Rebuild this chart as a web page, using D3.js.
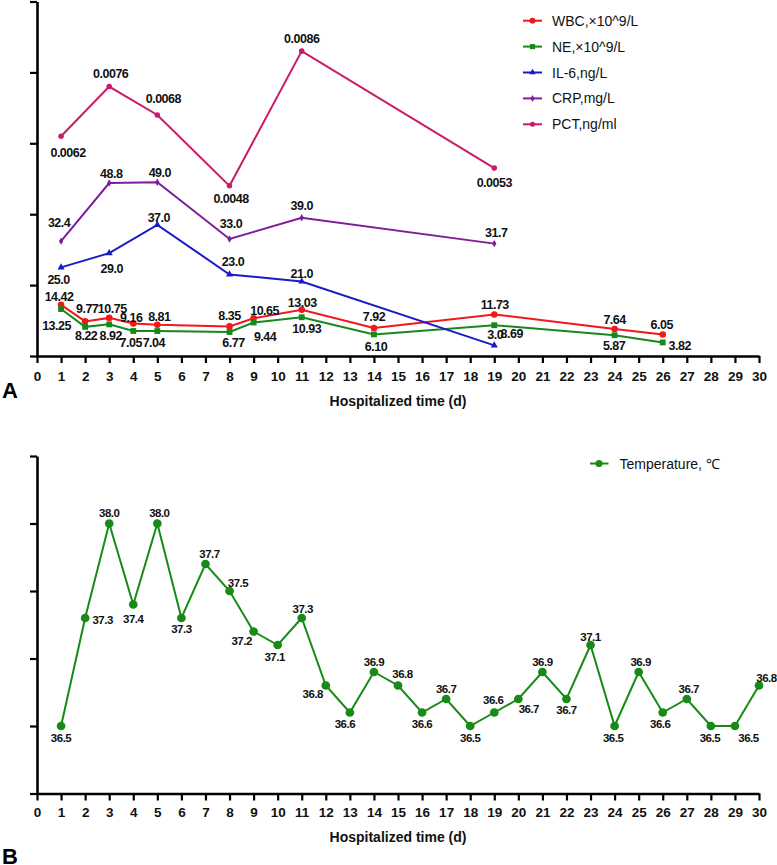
<!DOCTYPE html>
<html>
<head>
<meta charset="utf-8">
<script src="https://cdn.jsdelivr.net/npm/d3@7/dist/d3.min.js"></script>
<style>
  body { margin: 0; background: #fff; }
  svg { display: block; }
  text { font-family: "Liberation Sans", Arial, sans-serif; }
</style>
</head>
<body>
<svg id="chart" width="777" height="865"></svg>
<script>
// ---------------- DATA ----------------
const xTicks = d3.range(0, 31);
const xTitle = "Hospitalized time (d)";

const labDays = [1, 2, 3, 4, 5, 8, 9, 11, 14, 19, 24, 26];
const wbc = [14.42, 9.77, 10.75, 9.16, 8.81, 8.35, 10.65, 13.03, 7.92, 11.73, 7.64, 6.05];
const ne = [13.25, 8.22, 8.92, 7.05, 7.04, 6.77, 9.44, 10.93, 6.10, 8.69, 5.87, 3.82];

const inflDays = [1, 3, 5, 8, 11, 19];
const il6 = [25.0, 29.0, 37.0, 23.0, 21.0, 3.0];
const crp = [32.4, 48.8, 49.0, 33.0, 39.0, 31.7];
const pct = [0.0062, 0.0076, 0.0068, 0.0048, 0.0086, 0.0053];
const pctPlotFactor = 10000; // PCT drawn on the shared axis ×10^4

const tempDays = d3.range(1, 31);
const temperature = [36.5, 37.3, 38.0, 37.4, 38.0, 37.3, 37.7, 37.5, 37.2, 37.1,
  37.3, 36.8, 36.6, 36.9, 36.8, 36.6, 36.7, 36.5, 36.6, 36.7,
  36.9, 36.7, 37.1, 36.5, 36.9, 36.6, 36.7, 36.5, 36.5, 36.8];

const legendA = ["WBC,×10^9/L", "NE,×10^9/L", "IL-6,ng/L", "CRP,mg/L", "PCT,ng/ml"];
const legendB = ["Temperature, ℃"];

// ---------------- LABEL OFFSETS (layout only) ----------------
const offWbc = [[-2,-8],[2,-12],[3,-8.5],[-2,-6],[2,-7.5],[0,-10],[11,-7],[0.5,-6.5],[0,-10.5],[0.5,-9.5],[0,-9],[-1,-9.5]];
const offNe = [[-4.5,16.5],[1,9.5],[1.5,11.5],[-2.5,11.5],[-3.5,11.5],[4,10.7],[11.5,14],[5,12],[2,12.4],[17.5,9],[-0.5,11],[17,3.3]];
const offIl6 = [[-2.5,13],[2.5,16],[1.5,-6.5],[3.5,-12.5],[0,-7.5],[1,-10]];
const offCrp = [[-2,-17.7],[2,-9.5],[2.5,-9],[1.5,-15.5],[0,-11.5],[2,-11]];
const offPct = [[7,16.5],[1.5,-13],[6,-15.5],[1.5,13.5],[0,-12.5],[0,15]];
const offTemp = [[0,11.5],[17.5,2],[0,-10.5],[0,14],[2,-10.5],[0,11],[4,-10],[8.5,-8],[-12,9.5],[-3,11.5],
  [1,-9],[-13,8.5],[-5,11.5],[0,-10.5],[4.5,-12],[0,11.5],[0,-10.5],[0,11.5],[-1,-12.5],[10.5,10],
  [0,-10.5],[0,10.5],[0,-8.5],[-1.5,11.5],[2,-10.5],[-2.5,11.5],[2,-10.5],[-1,11.5],[13.5,11.5],[7.5,-8]];

// ---------------- DRAW ----------------
const svg = d3.select("#chart");
svg.append("rect").attr("width", 777).attr("height", 865).attr("fill", "#fff");

const x = d3.scaleLinear().domain([0, 30]).range([37, 759]);

function drawAxes(g, y, yTicks, axisY, pad, titleY) {
  const xa = g.append("g").attr("transform", `translate(0,${axisY})`)
    .call(d3.axisBottom(x).tickValues(xTicks).tickFormat(d3.format("d")).tickSize(7).tickSizeOuter(0).tickPadding(pad));
  xa.select(".domain").attr("stroke", "#000").attr("stroke-width", 2.6);
  xa.selectAll(".tick line").attr("stroke", "#000").attr("stroke-width", 2.2);
  xa.selectAll(".tick text").attr("font-size", 13.5).attr("font-weight", "bold").attr("fill", "#111")
    .attr("font-family", "'Liberation Sans', Arial, sans-serif");
  const ya = g.append("g").attr("transform", `translate(37,0)`)
    .call(d3.axisLeft(y).tickValues(yTicks).tickFormat("").tickSize(7).tickSizeOuter(0));
  ya.select(".domain").attr("stroke", "#000").attr("stroke-width", 2.6);
  ya.selectAll(".tick line").attr("stroke", "#000").attr("stroke-width", 2.2);
  g.append("text").attr("x", 398).attr("y", titleY).attr("text-anchor", "middle")
    .attr("dominant-baseline", "central").attr("font-size", 14).attr("font-weight", "bold")
    .attr("fill", "#111").text(xTitle);
}

function series(g, y, days, vals, plotVals, color, symbol, size, offs, fmt, fs) {
  const pts = days.map((d, i) => [x(d), y(plotVals[i])]);
  g.append("path").attr("d", d3.line()(pts)).attr("fill", "none")
    .attr("stroke", color).attr("stroke-width", 2);
  g.selectAll(null).data(pts).join("path")
    .attr("transform", p => `translate(${p[0]},${p[1]})`)
    .attr("d", d3.symbol(symbol, size)).attr("fill", color);
  g.selectAll(null).data(pts).join("text")
    .attr("x", (p, i) => p[0] + offs[i][0]).attr("y", (p, i) => p[1] + offs[i][1])
    .attr("text-anchor", "middle").attr("dominant-baseline", "central")
    .attr("font-size", fs).attr("font-weight", "bold").attr("fill", "#111")
    .attr("letter-spacing", -0.5)
    .text((p, i) => fmt(vals[i]));
}

// ----- Panel A -----
const gA = svg.append("g");
const yA = d3.scaleLinear().domain([0, 100]).range([356, 1.5]);
drawAxes(gA, yA, [0, 20, 40, 60, 80, 100], 356, 8.5, 401);

const cRed = "#f01818", cGreen = "#16881c", cBlue = "#1a1ac8", cPurple = "#7e1c9c", cPink = "#cc1a6a";
series(gA, yA, labDays, wbc, wbc, cRed, d3.symbolCircle, 34, offWbc, d3.format(".2f"), 12.5);
series(gA, yA, labDays, ne, ne, cGreen, d3.symbolSquare, 34, offNe, d3.format(".2f"), 12.5);
series(gA, yA, inflDays, il6, il6, cBlue, d3.symbolTriangle, 22, offIl6, d3.format(".1f"), 12.5);
series(gA, yA, inflDays, crp, crp, cPurple, d3.symbolDiamond, 16, offCrp, d3.format(".1f"), 12.5);
series(gA, yA, inflDays, pct, pct.map(v => v * pctPlotFactor), cPink, d3.symbolCircle, 24, offPct, d3.format(".4f"), 12.5);

const legA = [[cRed, d3.symbolCircle, 26], [cGreen, d3.symbolSquare, 26], [cBlue, d3.symbolTriangle, 18],
  [cPurple, d3.symbolDiamond, 14], [cPink, d3.symbolCircle, 20]];
legendA.forEach((t, i) => {
  const ly = 20.7 + i * 25.9;
  gA.append("line").attr("x1", 523).attr("x2", 542).attr("y1", ly).attr("y2", ly)
    .attr("stroke", legA[i][0]).attr("stroke-width", 2);
  gA.append("path").attr("transform", `translate(532.5,${ly})`)
    .attr("d", d3.symbol(legA[i][1], legA[i][2])).attr("fill", legA[i][0]);
  gA.append("text").attr("x", 552).attr("y", ly).attr("dominant-baseline", "central")
    .attr("font-size", 14).attr("fill", "#111").text(t);
});

svg.append("text").attr("x", 2).attr("y", 398).attr("font-family", "'Liberation Serif', 'Times New Roman', serif")
  .attr("font-size", 22).attr("font-weight", "bold").attr("fill", "#000").text("A");

// ----- Panel B -----
const gB = svg.append("g");
const yB = d3.scaleLinear().domain([36, 38.5]).range([793.5, 456]);
drawAxes(gB, yB, [36, 36.5, 37, 37.5, 38, 38.5], 793.5, 7, 836.5);
const cTemp = "#178a17";
series(gB, yB, tempDays, temperature, temperature, cTemp, d3.symbolCircle, 60, offTemp, d3.format(".1f"), 11.5);

gB.append("line").attr("x1", 590).attr("x2", 608.5).attr("y1", 463.5).attr("y2", 463.5)
  .attr("stroke", cTemp).attr("stroke-width", 2);
gB.append("path").attr("transform", "translate(599,463.5)").attr("d", d3.symbol(d3.symbolCircle, 40)).attr("fill", cTemp);
gB.append("text").attr("x", 619.5).attr("y", 463.5).attr("dominant-baseline", "central")
  .attr("font-size", 14).attr("fill", "#111").text(legendB[0]);

svg.append("text").attr("x", 2).attr("y", 864).attr("font-family", "'Liberation Serif', 'Times New Roman', serif")
  .attr("font-size", 22).attr("font-weight", "bold").attr("fill", "#000").text("B");
</script>
</body>
</html>
